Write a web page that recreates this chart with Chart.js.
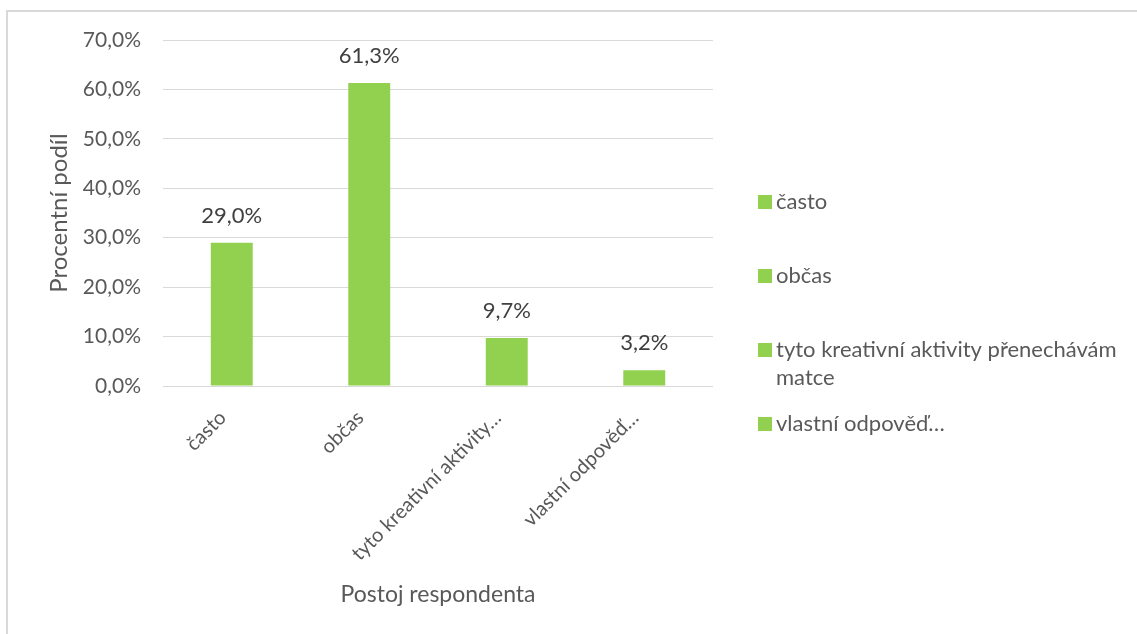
<!DOCTYPE html>
<html>
<head>
  <meta charset="utf-8">
  <title>Postoj respondenta</title>
  <script src="https://cdn.jsdelivr.net/npm/chart.js"></script>
  <style>
    html, body { margin: 0; padding: 0; background: #fff; }
    #wrap { position: relative; width: 1137px; height: 634px; overflow: hidden; }
    #frame { position: absolute; left: 6px; top: 10px; width: 1200px; height: 700px;
             border-left: 2px solid #d9d9d9; border-top: 2px solid #d9d9d9; }
    canvas { position: absolute; left: 0; top: 0; }
  </style>
</head>
<body>
<div id="wrap">
  <div id="frame"></div>
  <canvas id="chart" width="1137" height="634"></canvas>
</div>
<script>
  // data
  const categories = ['často', 'občas', 'tyto kreativní aktivity přenechávám matce', 'vlastní odpověď…'];
  const axisLabels = ['často', 'občas', 'tyto kreativní aktivity…', 'vlastní odpověď…'];
  const shares = [29.0, 61.3, 9.7, 3.2];
  const yTicks = [0, 10, 20, 30, 40, 50, 60, 70];

  const green = '#92D050';
  const font = 'Lato';
  const fmt = v => v.toFixed(1).replace('.', ',') + '%';

  // popisky hodnot nad sloupci
  const valueLabels = {
    id: 'valueLabels',
    afterDatasetsDraw(chart) {
      const ctx = chart.ctx;
      const meta = chart.getDatasetMeta(0);
      ctx.save();
      ctx.font = '22px ' + font;
      ctx.fillStyle = '#404040';
      ctx.textAlign = 'center';
      ctx.textBaseline = 'middle';
      meta.data.forEach((bar, i) => {
        ctx.fillText(fmt(shares[i]), bar.x, bar.y - 27);
      });
      ctx.restore();
    }
  };

  // legenda vpravo (jako v Excelu, kazdy bod zvlast)
  const sideLegend = {
    id: 'sideLegend',
    afterDraw(chart) {
      const ctx = chart.ctx;
      const x = chart.chartArea.right + 45;
      const maxW = chart.width - x - 15;
      ctx.save();
      ctx.font = '22px ' + font;
      ctx.textBaseline = 'middle';
      categories.forEach((name, i) => {
        const y = 202 + i * 74;
        ctx.fillStyle = green;
        ctx.fillRect(x, y - 7, 14, 14);
        // zalomeni textu
        const words = name.split(' ');
        const lines = [];
        let cur = '';
        words.forEach(w => {
          const t = cur ? cur + ' ' + w : w;
          if (ctx.measureText(t).width > maxW && cur) { lines.push(cur); cur = w; }
          else cur = t;
        });
        lines.push(cur);
        ctx.fillStyle = '#595959';
        lines.forEach((ln, j) => ctx.fillText(ln, x + 18, y + j * 28));
      });
      ctx.restore();
    }
  };

  new Chart(document.getElementById('chart'), {
    type: 'bar',
    data: {
      labels: axisLabels,
      datasets: [{
        label: 'Procentní podíl',
        data: shares,
        backgroundColor: green,
        borderWidth: 0,
        categoryPercentage: 1,
        barPercentage: 0.305
      }]
    },
    options: {
      responsive: false,
      animation: false,
      layout: { padding: { top: 40, right: 424, left: 0, bottom: 0 } },
      plugins: {
        legend: { display: false },
        tooltip: { enabled: false }
      },
      scales: {
        x: {
          grid: { display: false },
          border: { display: false },
          afterFit: s => { s.height = 248; },
          ticks: {
            autoSkip: false,
            minRotation: 45,
            maxRotation: 45,
            padding: 12,
            labelOffset: -9,
            color: '#595959',
            font: { family: font, size: 20 }
          },
          title: {
            display: true,
            text: 'Postoj respondenta',
            color: '#595959',
            font: { family: font, size: 23 },
            padding: { top: 0, bottom: 26 }
          }
        },
        y: {
          min: 0,
          max: 70,
          afterFit: s => { s.width = 163; },
          afterBuildTicks: s => { s.ticks = yTicks.map(v => ({ value: v })); },
          grid: { color: '#d9d9d9', lineWidth: 1, drawTicks: false },
          border: { display: false },
          ticks: {
            padding: 22,
            color: '#595959',
            font: { family: font, size: 21 },
            callback: v => fmt(v)
          },
          title: {
            display: true,
            text: 'Procentní podíl',
            color: '#595959',
            font: { family: font, size: 24 },
            padding: { top: 45, bottom: 0 }
          }
        }
      }
    },
    plugins: [valueLabels, sideLegend]
  });
</script>
</body>
</html>
